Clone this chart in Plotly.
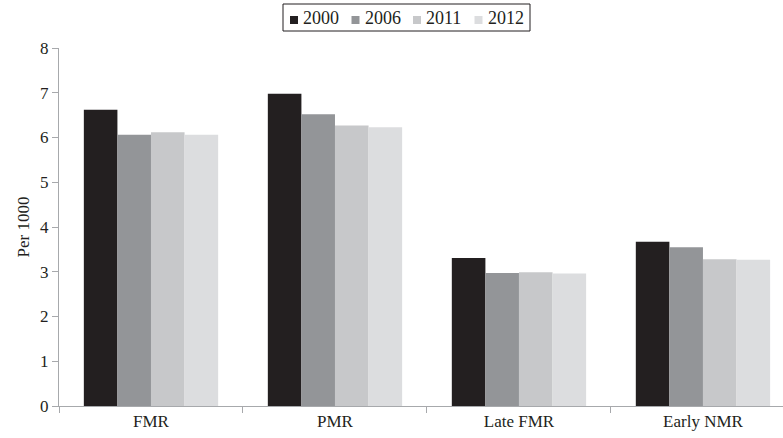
import plotly.graph_objects as go

categories = ["FMR", "PMR", "Late FMR", "Early NMR"]
years = ["2000", "2006", "2011", "2012"]
v2000 = [6.62, 6.98, 3.31, 3.67]
v2006 = [6.06, 6.52, 2.97, 3.55]
v2011 = [6.12, 6.27, 2.99, 3.28]
v2012 = [6.06, 6.23, 2.96, 3.27]
series = [v2000, v2006, v2011, v2012]
colors = ["#231f20", "#939598", "#c7c8ca", "#dcdddf"]

W, H = 783, 438
ML, MR, MT, MB = 59, 0, 48, 32
PW, PH = W - ML - MR, H - MT - MB


def px_x(p):
    return (p - ML) / PW


def px_y(p):
    return (H - MB - p) / PH


fig = go.Figure()
for name, vals, col in zip(years, series, colors):
    fig.add_trace(go.Bar(x=categories, y=vals, name=name, showlegend=False,
                         marker=dict(color=col, line=dict(width=0))))

font = dict(family="Liberation Serif, Times New Roman, serif", color="#231f20")

# manual legend (compact, like the reference)
shapes = [dict(type="rect", xref="paper", yref="paper",
               x0=px_x(283), x1=px_x(530), y0=px_y(31), y1=px_y(4),
               line=dict(color="#231f20", width=1), fillcolor="white")]
annotations = []
start = 290
step = 61.5
for i, (name, col) in enumerate(zip(years, colors)):
    x0 = start + i * step
    shapes.append(dict(type="rect", xref="paper", yref="paper",
                       x0=px_x(x0), x1=px_x(x0 + 8), y0=px_y(24), y1=px_y(16),
                       line=dict(width=0), fillcolor=col))
    annotations.append(dict(xref="paper", yref="paper", x=px_x(x0 + 11), y=px_y(18),
                            text=name, showarrow=False, xanchor="left", yanchor="middle",
                            font=dict(size=18, **font)))

fig.update_layout(
    width=W, height=H,
    barmode="group", bargap=0.27, bargroupgap=0,
    plot_bgcolor="white", paper_bgcolor="white",
    margin=dict(l=ML, r=MR, t=MT, b=MB, autoexpand=False),
    font=dict(size=17, **font),
    showlegend=False,
    shapes=shapes, annotations=annotations,
    xaxis=dict(range=[-0.5, 3.435], showline=True, linecolor="#a7a9ac", linewidth=1,
               ticks="outside", tickson="boundaries", ticklen=6, tickcolor="#a7a9ac",
               showgrid=False, automargin=False, tickfont=dict(size=17, **font)),
    yaxis=dict(range=[0, 8], dtick=1, showline=True, linecolor="#a7a9ac", linewidth=1,
               ticks="outside", ticklen=6, tickcolor="#a7a9ac", showgrid=False,
               zeroline=False, automargin=False, tickfont=dict(size=17, **font),
               title=dict(text="Per 1000", font=dict(size=17, **font), standoff=6)),
)
fig.write_html("out.html", config={"displayModeBar": False},
               post_script="document.body.style.margin='0';document.body.style.overflow='hidden';")
